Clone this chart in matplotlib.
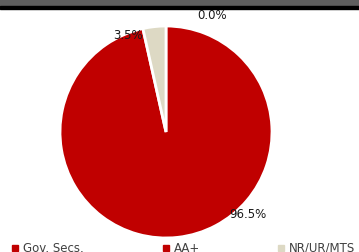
import matplotlib
matplotlib.use("Agg")
from matplotlib import pyplot as plt
from matplotlib.patches import Rectangle
from matplotlib.lines import Line2D

labels = ["Gov. Secs.", "AA+", "NR/UR/MTS"]
shares = [0.0, 96.5, 3.5]
colors = ["#C00000", "#C00000", "#DDD9C4"]
# label spots in pie-radius units (Excel "best fit" style)
label_pos = [(0.43, 1.11), (0.77, -0.77), (-0.36, 0.92)]
# legend entry x positions (pixels)
legend_x = [15, 166, 281]

W, H = 359, 253
fig = plt.figure(figsize=(W / 100, H / 100), dpi=100)

# header band at the top
fig.patches.append(Rectangle((0, 1 - 7 / H), 1, 7 / H, transform=fig.transFigure,
                             color="#5F5F5F", zorder=0))
fig.patches.append(Rectangle((0, 1 - 9.5 / H), 1, 2.5 / H, transform=fig.transFigure,
                             color="black", zorder=0))

cx, cy, r = 166, 253 - 133, 106
k = 1.3
ax = fig.add_axes([(cx - r * k) / W, (cy - r * k) / H, 2 * r * k / W, 2 * r * k / H])
ax.pie(shares, colors=colors, startangle=90, counterclock=False, radius=1,
       wedgeprops=dict(edgecolor="white", linewidth=2))
ax.set_xlim(-k, k)
ax.set_ylim(-k, k)
ax.axis("off")

for v, (x, y) in zip(shares, label_pos):
    ax.text(x, y, f"{v:.1f}%", ha="center", va="center", fontsize=8.5, color="#1a1a1a")

# legend along the bottom edge
ly = (253 - 248.5) / H
for lab, c, x in zip(labels, colors, legend_x):
    fig.add_artist(Line2D([x / W], [ly], marker="s", markersize=4, color=c,
                          linestyle="", transform=fig.transFigure))
    fig.text((x + 8) / W, ly, lab, ha="left", va="center", fontsize=8.5, color="#404040")

fig.savefig("out.png", dpi=100)
